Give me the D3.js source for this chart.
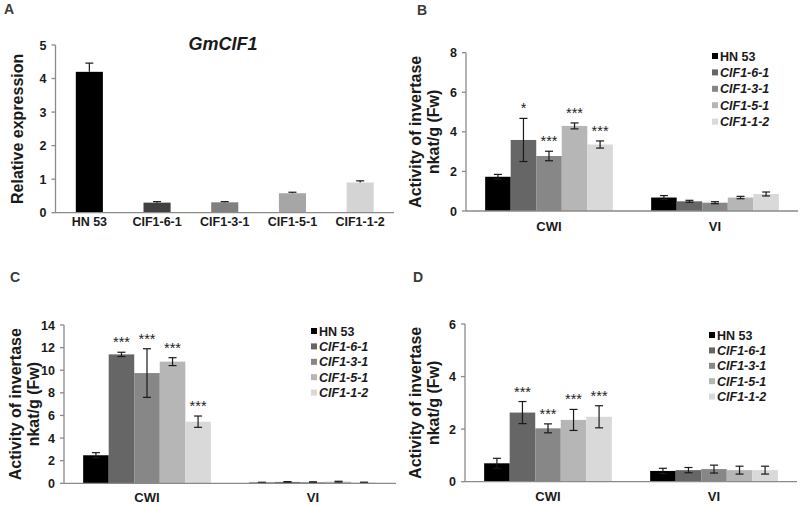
<!DOCTYPE html>
<html><head><meta charset="utf-8">
<script src="https://cdn.jsdelivr.net/npm/d3@7"></script>
<style>body{margin:0;background:#fff}svg{display:block}text{font-family:"Liberation Sans",Arial,sans-serif}</style>
</head><body>
<svg id="c" width="800" height="505"></svg>
<script>
// ---------- data ----------
const linesA = ["HN 53", "CIF1-6-1", "CIF1-3-1", "CIF1-5-1", "CIF1-1-2"];
const exprA = [4.2, 0.3, 0.31, 0.58, 0.9];
const exprAErr = [0.26, 0.03, 0.02, 0.03, 0.05];
const ticksA = [0, 1, 2, 3, 4, 5];

const groups = ["CWI", "VI"];
const seriesNames = ["HN 53", "CIF1-6-1", "CIF1-3-1", "CIF1-5-1", "CIF1-1-2"];

// panel B values per series: [CWI, VI]
const bVals = [[1.73, 0.68], [3.59, 0.49], [2.78, 0.42], [4.3, 0.68], [3.36, 0.86]];
const bErr = [[0.12, 0.1], [1.09, 0.05], [0.24, 0.05], [0.15, 0.06], [0.18, 0.1]];
const bStars = [["", ""], ["*", ""], ["***", ""], ["***", ""], ["***", ""]];
const ticksB = [0, 2, 4, 6, 8];

// panel C
const cVals = [[2.48, 0.06], [11.4, 0.12], [9.75, 0.1], [10.76, 0.14], [5.45, 0.07]];
const cErr = [[0.23, 0.03], [0.19, 0.03], [2.15, 0.03], [0.35, 0.04], [0.5, 0.03]];
const cStars = [["", ""], ["***", ""], ["***", ""], ["***", ""], ["***", ""]];
const ticksC = [0, 2, 4, 6, 8, 10, 12, 14];

// panel D
const dVals = [[0.7, 0.41], [2.63, 0.44], [2.03, 0.48], [2.35, 0.44], [2.47, 0.44]];
const dErr = [[0.19, 0.1], [0.42, 0.1], [0.17, 0.15], [0.4, 0.15], [0.42, 0.15]];
const dStars = [["", ""], ["***", ""], ["***", ""], ["***", ""], ["***", ""]];
const ticksD = [0, 2, 4, 6];

// ---------- styles ----------
const colorsA = ["#000000", "#404040", "#808080", "#a6a6a6", "#d4d4d4"];
const colorsG = ["#000000", "#666666", "#878787", "#b6b6b6", "#d9d9d9"];
const axisColor = "#8a8a8a";
const txt = "#1a1a1a";

const svg = d3.select("#c");

function yAxis(g, y, ticks, x0) {
  g.append("line").attr("x1", x0).attr("x2", x0)
    .attr("y1", y(ticks[ticks.length - 1])).attr("y2", y(0))
    .attr("stroke", axisColor).attr("stroke-width", 1.3);
  ticks.forEach(t => {
    g.append("line").attr("x1", x0 - 4).attr("x2", x0).attr("y1", y(t)).attr("y2", y(t))
      .attr("stroke", axisColor).attr("stroke-width", 1.3);
    g.append("text").attr("x", x0 - 9).attr("y", y(t)).attr("dy", "0.36em")
      .attr("text-anchor", "end").attr("font-size", 12.5).attr("font-weight", "bold")
      .attr("fill", txt).text(t);
  });
}

function panelLabel(t, x, y) {
  svg.append("text").attr("x", x).attr("y", y).attr("font-size", 14)
    .attr("font-weight", "bold").attr("fill", "#3a3a3a").text(t);
}

function errBar(g, cx, yTop, yBot, cap) {
  g.append("line").attr("x1", cx).attr("x2", cx).attr("y1", yTop).attr("y2", yBot)
    .attr("stroke", "#1a1a1a").attr("stroke-width", 1.2);
  [yTop, yBot].forEach(yy => g.append("line").attr("x1", cx - cap).attr("x2", cx + cap)
    .attr("y1", yy).attr("y2", yy).attr("stroke", "#1a1a1a").attr("stroke-width", 1.2));
}

// ---------- Panel A ----------
(function () {
  const g = svg.append("g");
  const x0 = 55.5, x1 = 394, yTop = 45, yBot = 212.7;
  const x = d3.scaleBand().domain(linesA).range([x0, x1]).paddingInner(0.6).paddingOuter(0.3);
  const y = d3.scaleLinear().domain([0, 5]).range([yBot, yTop]);
  linesA.forEach((d, i) => {
    g.append("rect").attr("x", x(d)).attr("width", x.bandwidth())
      .attr("y", y(exprA[i])).attr("height", y(0) - y(exprA[i])).attr("fill", colorsA[i]);
    const cx = x(d) + x.bandwidth() / 2;
    g.append("line").attr("x1", cx).attr("x2", cx).attr("y1", y(exprA[i])).attr("y2", y(exprA[i] + exprAErr[i]))
      .attr("stroke", "#1a1a1a").attr("stroke-width", 1.2);
    g.append("line").attr("x1", cx - 4).attr("x2", cx + 4).attr("y1", y(exprA[i] + exprAErr[i])).attr("y2", y(exprA[i] + exprAErr[i]))
      .attr("stroke", "#1a1a1a").attr("stroke-width", 1.2);
    g.append("text").attr("x", cx).attr("y", 225.5).attr("text-anchor", "middle")
      .attr("font-size", 12.5).attr("font-weight", "bold").attr("fill", txt).text(d);
  });
  g.append("line").attr("x1", x0).attr("x2", x1).attr("y1", yBot).attr("y2", yBot)
    .attr("stroke", axisColor).attr("stroke-width", 1.3);
  yAxis(g, y, ticksA, x0);
  g.append("text").attr("transform", `translate(23,${(yTop + yBot) / 2}) rotate(-90)`)
    .attr("text-anchor", "middle").attr("font-size", 16).attr("font-weight", "bold")
    .attr("fill", txt).text("Relative expression");
  g.append("text").attr("x", 223).attr("y", 50).attr("text-anchor", "middle")
    .attr("font-size", 18).attr("font-weight", "bold").attr("font-style", "italic")
    .attr("fill", txt).text("GmCIF1");
  panelLabel("A", 4, 14);
})();

// ---------- grouped panels ----------
function grouped(cfg) {
  const g = svg.append("g");
  const { x0, x1, yTop, yBot, ticks, vals, errs, stars, labY, yLabX, leg } = cfg;
  const pad = 1.5 / 6.5;
  const x = d3.scaleBand().domain(groups).range([x0, x1]).paddingInner(pad).paddingOuter(pad / 2);
  const xs = d3.scaleBand().domain(seriesNames).range([0, x.bandwidth()]);
  const y = d3.scaleLinear().domain([0, ticks[ticks.length - 1]]).range([yBot, yTop]);
  seriesNames.forEach((s, i) => {
    groups.forEach((grp, j) => {
      const v = vals[i][j];
      g.append("rect").attr("x", x(grp) + xs(s)).attr("width", xs.bandwidth())
        .attr("y", y(v)).attr("height", y(0) - y(v)).attr("fill", colorsG[i]);
    });
  });
  seriesNames.forEach((s, i) => {
    groups.forEach((grp, j) => {
      const v = vals[i][j], e = errs[i][j];
      const cx = x(grp) + xs(s) + xs.bandwidth() / 2;
      errBar(g, cx, y(v + e), y(Math.max(0, v - e)), 4);
      if (stars[i][j]) {
        g.append("text").attr("x", cx).attr("y", y(v + e) - 5).attr("text-anchor", "middle")
          .attr("font-size", 14.5).attr("fill", "#222").text(stars[i][j]);
      }
    });
  });
  g.append("line").attr("x1", x0).attr("x2", x1).attr("y1", yBot).attr("y2", yBot)
    .attr("stroke", axisColor).attr("stroke-width", 1.3);
  yAxis(g, y, ticks, x0);
  groups.forEach(grp => {
    g.append("text").attr("x", x(grp) + x.bandwidth() / 2).attr("y", labY).attr("text-anchor", "middle")
      .attr("font-size", 13).attr("font-weight", "bold").attr("fill", txt).text(grp);
  });
  const cy = (yTop + yBot) / 2;
  g.append("text").attr("transform", `translate(${yLabX},${cy}) rotate(-90)`)
    .attr("text-anchor", "middle").attr("font-size", 16).attr("font-weight", "bold")
    .attr("fill", txt).text("Activity of invertase");
  g.append("text").attr("transform", `translate(${yLabX + 18},${cy}) rotate(-90)`)
    .attr("text-anchor", "middle").attr("font-size", 16).attr("font-weight", "bold")
    .attr("fill", txt).text("nkat/g (Fw)");
  seriesNames.forEach((s, i) => {
    const ry = leg.y + i * leg.step;
    g.append("rect").attr("x", leg.x).attr("y", ry - 3).attr("width", 6).attr("height", 6).attr("fill", colorsG[i]);
    g.append("text").attr("x", leg.x + 8).attr("y", ry).attr("dy", "0.36em")
      .attr("font-size", 12.5).attr("font-weight", "bold")
      .attr("font-style", i === 0 ? "normal" : "italic").attr("fill", txt).text(s);
  });
}

grouped({ x0: 466, x1: 798, yTop: 52.7, yBot: 211, ticks: ticksB, vals: bVals, errs: bErr, stars: bStars,
  labY: 231, yLabX: 421, leg: { x: 712, y: 56, step: 16.4 } });
panelLabel("B", 417, 15);

grouped({ x0: 64, x1: 396, yTop: 325, yBot: 483.3, ticks: ticksC, vals: cVals, errs: cErr, stars: cStars,
  labY: 502, yLabX: 21, leg: { x: 311, y: 331, step: 15.4 } });
panelLabel("C", 10, 282);

grouped({ x0: 465, x1: 797, yTop: 324, yBot: 481.7, ticks: ticksD, vals: dVals, errs: dErr, stars: dStars,
  labY: 501, yLabX: 421, leg: { x: 709, y: 335, step: 15.4 } });
panelLabel("D", 413, 282);
</script>
</body></html>
